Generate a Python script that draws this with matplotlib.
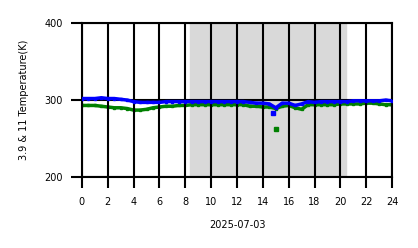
import numpy as np
import matplotlib
matplotlib.use("Agg")
import matplotlib.pyplot as plt

# hourly (half-hour) samples, 2025-07-03
hours = np.arange(0, 24.5, 0.5)
t39 = [302, 302, 302, 303, 302, 302, 301, 300, 298, 297, 297, 297, 297, 298, 298, 298,
       298, 298, 298, 298, 298, 298, 298, 298, 298, 298, 297, 296, 296, 295, 290, 296,
       296, 293, 295, 298, 297, 298, 298, 298, 298, 298, 299, 299, 299, 299, 299, 300, 299]
t11 = [293, 293, 293, 292, 291, 290, 290, 289, 287, 287, 288, 290, 291, 292, 292, 293,
       293, 294, 294, 294, 294, 294, 294, 294, 294, 294, 292, 292, 291, 291, 289, 292,
       293, 290, 288, 294, 294, 294, 294, 294, 295, 295, 295, 295, 296, 296, 295, 294, 294]
# isolated points
out_h = [14.8, 15.0]
out_t = [283, 263]
night = (8.4, 20.4)

fig = plt.figure(figsize=(4.18, 2.48), dpi=100)
ax = fig.add_axes([0.196, 0.286, 0.742, 0.621])

ax.axvspan(night[0], night[1], color='#d9d9d9', zorder=0)
ax.plot(hours, t11, color='green', lw=2.5, marker='s', ms=2, zorder=2)
ax.plot(hours, t39, color='blue', lw=2.5, marker='s', ms=2, zorder=3)
ax.plot(out_h[0], out_t[0], 's', color='blue', ms=2.5, zorder=3)
ax.plot(out_h[1], out_t[1], 's', color='green', ms=2.5, zorder=3)

ax.set_xlim(0, 24)
ax.set_ylim(200, 400)
ax.set_xticks(range(0, 25, 2))
ax.set_yticks([200, 300, 400])
ax.grid(True, color='black', lw=1.5)
ax.set_axisbelow(False)
for s in ax.spines.values():
    s.set_linewidth(1.5)
ax.tick_params(direction='out', length=8, width=1.5, labelsize=7, pad=6)
ax.set_xlabel('2025-07-03', fontsize=7, labelpad=10)
ax.set_ylabel('3.9 & 11 Temperature(K)', fontsize=7, labelpad=11)

plt.savefig('out.png', dpi=100)
